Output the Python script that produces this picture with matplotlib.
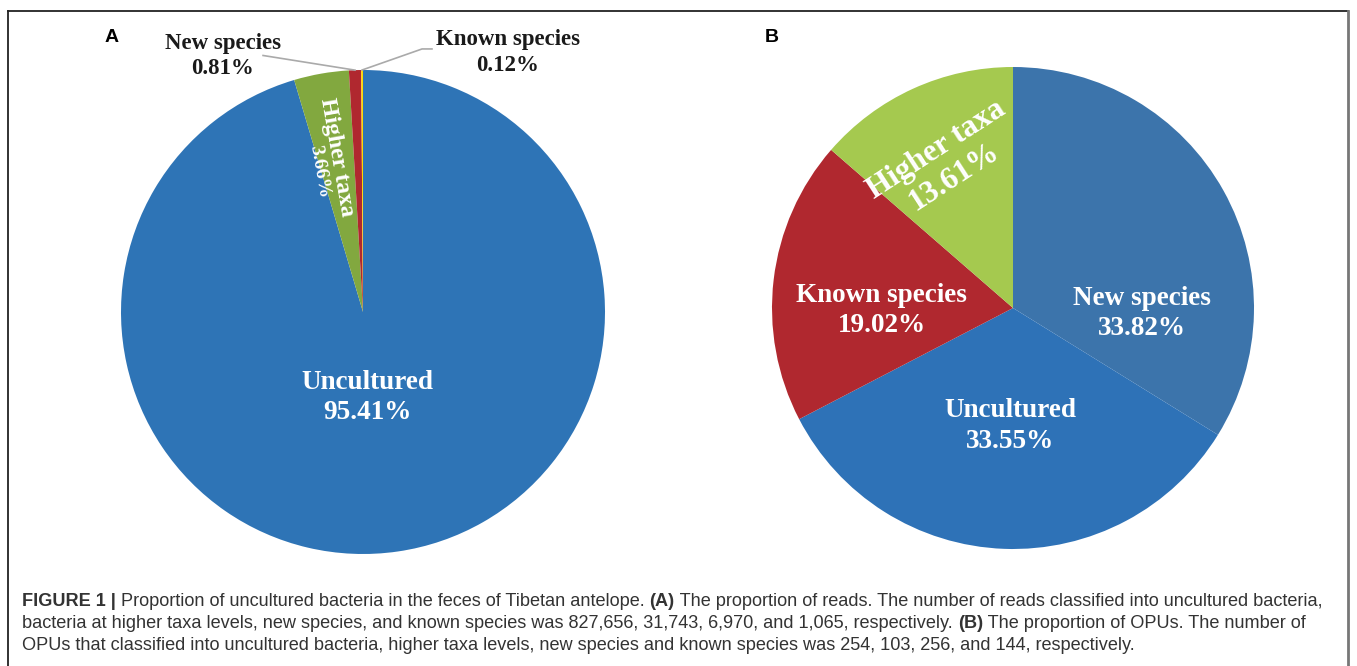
import numpy as np
import matplotlib
matplotlib.use("Agg")
from matplotlib import pyplot as plt
from matplotlib import font_manager
from matplotlib.lines import Line2D

# panel A: proportion of reads
labels_a = ["Uncultured", "Higher taxa", "New species", "Known species"]
values_a = [95.41, 3.66, 0.81, 0.12]
colors_a = ["#2E74B6", "#82A83F", "#B0282F", "#FFD700"]

# panel B: proportion of OPUs
labels_b = ["New species", "Uncultured", "Known species", "Higher taxa"]
values_b = [33.82, 33.55, 19.02, 13.61]
colors_b = ["#3C74AB", "#2E72B7", "#B0282F", "#A5C94F"]

W, H = 1357, 666
fig = plt.figure(figsize=(W / 100, H / 100), dpi=100)

SERIF = "Liberation Serif"
names = {f.name for f in font_manager.fontManager.ttflist}
CAP = "Liberation Sans Narrow" if "Liberation Sans Narrow" in names else "Liberation Sans"


def px_axes(cx, cy, r):
    return fig.add_axes([(cx - r) / W, (H - cy - r) / H, 2 * r / W, 2 * r / H])


def fmt(v):
    return "%.2f%%" % v


# ---- pie A
axa = px_axes(363, 312, 242)
wa, _ = axa.pie(values_a, colors=colors_a, startangle=90, counterclock=False,
                radius=1, wedgeprops=dict(linewidth=0))
axa.set_xlim(-1, 1)
axa.set_ylim(-1, 1)
axa.set_axis_off()

tw = dict(color="white", fontweight="bold", family=SERIF, ha="center", va="center")
axa.text(0.017, -0.352, labels_a[0] + "\n" + fmt(values_a[0]), fontsize=19.5,
         linespacing=1.28, **tw)
axa.text(-0.11, 0.64, labels_a[1], fontsize=17, rotation=-80, **tw)
axa.text(-0.18, 0.58, fmt(values_a[1]), fontsize=14, rotation=-80, **tw)

tb = dict(color="#1a1a1a", fontweight="bold", family=SERIF, ha="center", va="center")
axa.text(-0.579, 1.058, labels_a[2] + "\n" + fmt(values_a[2]), fontsize=16.5,
         linespacing=1.3, **tb)
axa.text(0.599, 1.072, labels_a[3] + "\n" + fmt(values_a[3]), fontsize=16.5,
         linespacing=1.3, **tb)


def edge_point(w):
    m = np.deg2rad((w.theta1 + w.theta2) / 2)
    return np.cos(m), np.sin(m)


x2, y2 = edge_point(wa[2])
axa.add_line(Line2D([-0.413, x2], [1.06, y2], color="#AAAAAA", lw=1.2, clip_on=False))
x3, y3 = edge_point(wa[3])
axa.add_line(Line2D([0.285, 0.244, x3], [1.087, 1.087, y3], color="#AAAAAA", lw=1.2,
                    clip_on=False))

# ---- pie B
axb = px_axes(1013, 308, 241)
axb.pie(values_b, colors=colors_b, startangle=90, counterclock=False,
        radius=1, wedgeprops=dict(linewidth=0))
axb.set_xlim(-1, 1)
axb.set_ylim(-1, 1)
axb.set_axis_off()

axb.text(0.535, -0.022, labels_b[0] + "\n" + fmt(values_b[0]), fontsize=19.5,
         linespacing=1.28, **tw)
axb.text(-0.012, -0.49, labels_b[1] + "\n" + fmt(values_b[1]), fontsize=19.5,
         linespacing=1.28, **tw)
axb.text(-0.544, -0.009, labels_b[2] + "\n" + fmt(values_b[2]), fontsize=19.5,
         linespacing=1.28, **tw)
axb.text(-0.28, 0.60, labels_b[3] + "\n" + fmt(values_b[3]), fontsize=22.5,
         linespacing=1.15, rotation=33, rotation_mode="anchor", **tw)

# panel letters
fig.text(112 / W, 1 - 38 / H, "A", fontsize=14, fontweight="bold",
         family="Liberation Sans", ha="center", va="center")
fig.text(772 / W, 1 - 38 / H, "B", fontsize=14, fontweight="bold",
         family="Liberation Sans", ha="center", va="center")

# frame
fig.add_artist(Line2D([8 / W, 8 / W], [0, 1 - 11 / H], color="#222222", lw=1.3))
fig.add_artist(Line2D([8 / W, 1348 / W], [1 - 11 / H, 1 - 11 / H], color="#222222", lw=1.3))
fig.add_artist(Line2D([1348 / W, 1348 / W], [0, 1 - 11 / H], color="#777777", lw=2))

# caption with bold runs
caption = [
    [("FIGURE 1 | ", True), ("Proportion of uncultured bacteria in the feces of Tibetan antelope. ", False),
     ("(A)", True), (" The proportion of reads. The number of reads classified into uncultured bacteria,", False)],
    [("bacteria at higher taxa levels, new species, and known species was 827,656, 31,743, 6,970, and 1,065, respectively. ", False),
     ("(B)", True), (" The proportion of OPUs. The number of", False)],
    [("OPUs that classified into uncultured bacteria, higher taxa levels, new species and known species was 254, 103, 256, and 144, respectively.", False)],
]
cap_y = [601, 624, 646]
cap_size = 12.2 if CAP.endswith("Narrow") else 13.1
fig.canvas.draw()
rend = fig.canvas.get_renderer()
for line, yy in zip(caption, cap_y):
    x = 22
    for txt, bold in line:
        t = fig.text(x / W, 1 - yy / H, txt, fontsize=cap_size, family=CAP,
                     fontweight="bold" if bold else "normal", color="#333333",
                     ha="left", va="center")
        bb = t.get_window_extent(renderer=rend)
        x += bb.width

fig.savefig("out.png", dpi=100)
